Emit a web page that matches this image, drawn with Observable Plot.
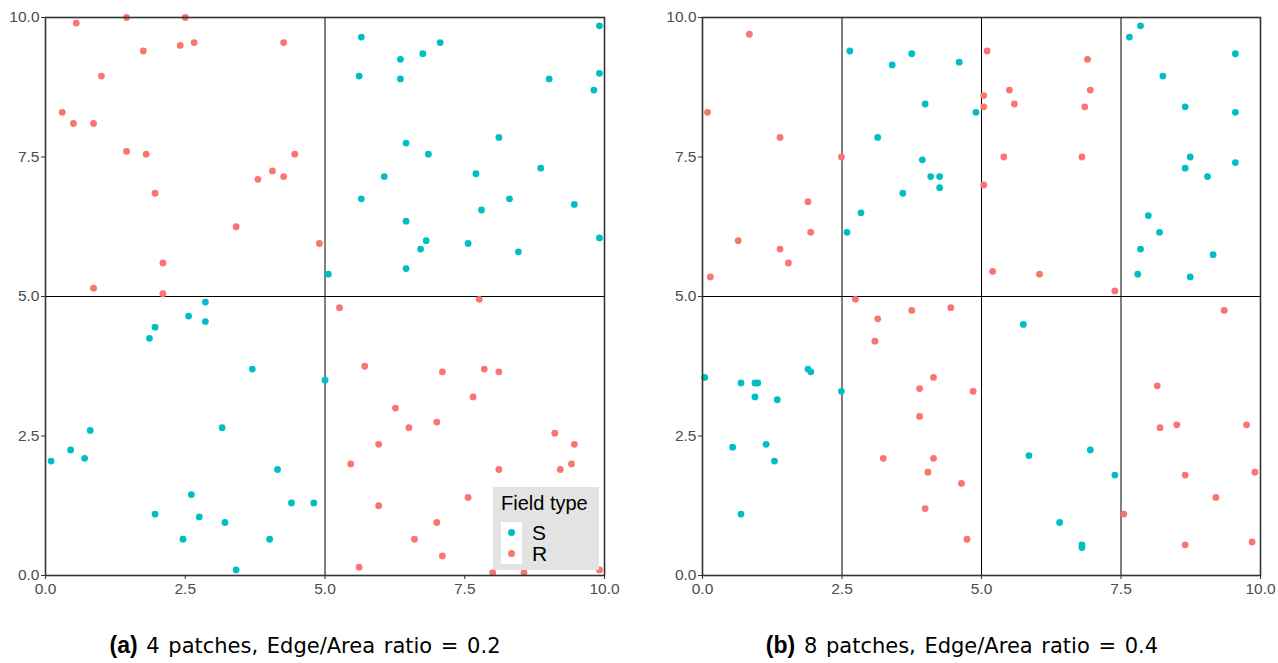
<!DOCTYPE html>
<html>
<head>
<meta charset="utf-8">
<script src="https://cdn.jsdelivr.net/npm/d3@7"></script>
<script src="https://cdn.jsdelivr.net/npm/@observablehq/plot@0.6"></script>
<style>
  html, body { margin: 0; padding: 0; background: #fff; }
  #wrap { position: relative; width: 1278px; height: 663px; overflow: hidden; font-family: "Liberation Sans", Arial, sans-serif; }
  .panel { position: absolute; top: 0; }
  .legend { position: absolute; left: 493px; top: 487px; width: 106px; height: 83px; background: #e3e3e3; }
  .legend .title { position: absolute; left: 8px; top: 5px; font-size: 20px; color: #000; white-space: nowrap; }
  .legend .keybox { position: absolute; left: 8px; top: 35px; width: 21px; height: 42px; background: #fff; }
  .legend .dotk { position: absolute; width: 7px; height: 7px; border-radius: 50%; }
  .legend .lab { position: absolute; left: 39px; font-size: 21px; color: #000; line-height: 21px; height: 21px; }
  .cap { position: absolute; top: 632px; transform: translateX(-50%); white-space: nowrap; font-family: "DejaVu Sans", sans-serif; font-size: 21px; word-spacing: 2px; color: #000; }
  .cap b { font-family: "Liberation Sans", Arial, sans-serif; font-size: 23px; }
</style>
</head>
<body>
<div id="wrap">
  <div id="pa" class="panel" style="left:0px"></div>
  <div id="pb" class="panel" style="left:639px"></div>
  <div class="legend" id="legend"></div>
  <div class="cap" id="capA" style="left:305px"></div>
  <div class="cap" id="capB" style="left:962px"></div>
</div>
<script>
// ---- Data: panel (a), 4 patches ----
const aS = [
  [9.91,9.85],[5.65,9.65],[7.06,9.55],[6.75,9.35],[6.35,9.25],[5.61,8.95],[6.35,8.90],[9.01,8.90],[9.91,9.0],[9.81,8.70],
  [8.11,7.85],[6.45,7.75],[6.85,7.55],[6.06,7.15],[7.70,7.20],[8.86,7.30],[5.65,6.75],[8.30,6.75],[7.80,6.55],[9.46,6.65],
  [6.45,6.35],[6.81,6.00],[6.71,5.85],[7.56,5.95],[8.46,5.80],[9.91,6.05],[6.45,5.50],[5.06,5.40],
  [2.86,4.90],[2.56,4.65],[2.86,4.55],[1.96,4.45],[1.86,4.25],[3.70,3.70],[5.0,3.50],[3.16,2.65],[0.80,2.60],[0.45,2.25],
  [0.10,2.05],[0.70,2.10],[4.15,1.90],[2.61,1.45],[1.96,1.10],[2.75,1.05],[3.21,0.95],[4.40,1.30],[4.80,1.30],[2.46,0.65],
  [4.01,0.65],[3.41,0.10]
];
const aR = [
  [0.55,9.90],[1.45,10.0],[2.50,10.0],[1.75,9.40],[2.41,9.50],[2.66,9.55],[4.26,9.55],[1.0,8.95],[0.30,8.30],[0.50,8.10],
  [0.86,8.10],[1.45,7.60],[1.80,7.55],[1.96,6.85],[3.80,7.10],[4.06,7.25],[4.26,7.15],[4.46,7.55],[3.41,6.25],[4.90,5.95],
  [2.10,5.60],[0.86,5.15],[2.10,5.05],
  [7.76,4.95],[5.26,4.80],[5.71,3.75],[7.10,3.65],[7.85,3.70],[8.11,3.65],[7.65,3.20],[6.26,3.00],[6.50,2.65],[7.0,2.75],
  [5.96,2.35],[5.46,2.00],[8.11,1.90],[9.11,2.55],[9.46,2.35],[9.41,2.00],[9.21,1.90],[7.56,1.40],[5.96,1.25],[7.0,0.95],
  [6.60,0.65],[7.10,0.35],[5.61,0.15],[8.0,0.05],[8.56,0.05],[9.91,0.10]
];
const aGridX = [5];
const aGridY = [5];

// ---- Data: panel (b), 8 patches ----
const bS = [
  [2.64,9.40],[3.75,9.35],[3.40,9.15],[4.60,9.20],[3.99,8.45],[4.90,8.30],[3.14,7.85],[3.94,7.45],[4.09,7.15],[4.25,7.15],
  [4.25,6.95],[3.59,6.85],[2.84,6.50],[2.59,6.15],
  [7.85,9.85],[7.65,9.65],[9.55,9.35],[8.25,8.95],[8.65,8.40],[9.55,8.30],[8.74,7.50],[8.65,7.30],[9.05,7.15],[9.55,7.40],
  [7.99,6.45],[8.19,6.15],[7.85,5.85],[9.15,5.75],[7.80,5.40],[8.74,5.35],
  [0.04,3.55],[0.69,3.45],[0.94,3.45],[0.99,3.45],[0.94,3.20],[1.34,3.15],[1.89,3.70],[1.94,3.65],[2.49,3.30],[0.54,2.30],
  [1.14,2.35],[1.29,2.05],[0.69,1.10],
  [5.75,4.50],[5.85,2.15],[6.95,2.25],[7.39,1.80],[6.40,0.95],[6.80,0.55],[6.80,0.50]
];
const bR = [
  [0.84,9.70],[0.09,8.30],[1.39,7.85],[2.49,7.50],[1.89,6.70],[1.94,6.15],[0.64,6.0],[1.39,5.85],[1.54,5.60],[0.14,5.35],
  [5.10,9.40],[6.90,9.25],[5.50,8.70],[6.95,8.70],[5.04,8.60],[5.04,8.40],[5.59,8.45],[6.85,8.40],[5.40,7.50],[6.80,7.50],
  [5.04,7.00],[5.20,5.45],[6.04,5.40],[7.39,5.10],
  [2.74,4.95],[3.14,4.60],[3.09,4.20],[3.75,4.75],[4.45,4.80],[4.14,3.55],[3.89,3.35],[4.85,3.30],[3.89,2.85],[3.24,2.10],
  [4.14,2.10],[4.04,1.85],[4.64,1.65],[3.99,1.20],[4.74,0.65],
  [9.35,4.75],[8.15,3.40],[8.20,2.65],[8.50,2.70],[9.75,2.70],[8.65,1.80],[9.90,1.85],[9.20,1.40],[7.55,1.10],[8.65,0.55],
  [9.85,0.60]
];
const bGridX = [2.5, 5, 7.5];
const bGridY = [5];

const ticks = [0, 2.5, 5, 7.5, 10];
const fieldTypes = ["S", "R"];
const fieldColors = ["#00BFC4", "#F8766D"];
const captions = [
  ["(a)", "4 patches, Edge/Area ratio = 0.2"],
  ["(b)", "8 patches, Edge/Area ratio = 0.4"]
];

function rows(S, R) {
  return [
    ...S.map(([x, y]) => ({x, y, type: "S"})),
    ...R.map(([x, y]) => ({x, y, type: "R"}))
  ];
}

function panel(data, gx, gy, mLeft, mRight) {
  return Plot.plot({
    width: 639,
    height: 600,
    marginLeft: mLeft,
    marginRight: mRight,
    marginTop: 17,
    marginBottom: 25,
    style: {fontFamily: "'Liberation Sans', Arial, sans-serif", fontSize: "15px", color: "#4d4d4d", background: "#fff"},
    x: {domain: [0, 10], ticks, tickFormat: d3.format(".1f")},
    y: {domain: [0, 10], ticks, tickFormat: d3.format(".1f")},
    color: {domain: fieldTypes, range: fieldColors},
    marks: [
      Plot.ruleX(gx, {stroke: "#000", strokeWidth: 1}),
      Plot.ruleY(gy, {stroke: "#000", strokeWidth: 1}),
      Plot.dot(data, {x: "x", y: "y", fill: "type", r: 3.4}),
      Plot.frame({stroke: "#333", strokeWidth: 1.6}),
      Plot.axisX({ticks, tickFormat: d3.format(".1f"), tickSize: 4, tickPadding: 3, stroke: "#333", fontSize: 15.5, fill: "#4d4d4d", label: null}),
      Plot.axisY({ticks, tickFormat: d3.format(".1f"), tickSize: 4, tickPadding: 2, stroke: "#333", fontSize: 15.5, fill: "#4d4d4d", label: null})
    ]
  });
}

document.getElementById("pa").appendChild(panel(rows(aS, aR), aGridX, aGridY, 45, 35));
document.getElementById("pb").appendChild(panel(rows(bS, bR), bGridX, bGridY, 63, 18));

// legend (HTML)
const lg = document.getElementById("legend");
lg.innerHTML = `<div class="title">Field type</div><div class="keybox"></div>`;
fieldTypes.forEach((t, i) => {
  const d = document.createElement("div");
  d.className = "dotk";
  d.style.background = fieldColors[i];
  d.style.left = "15px";
  d.style.top = (42 + i * 21) + "px";
  lg.appendChild(d);
  const l = document.createElement("div");
  l.className = "lab";
  l.textContent = t;
  l.style.top = (35 + i * 21) + "px";
  lg.appendChild(l);
});

// captions
[["capA", 0], ["capB", 1]].forEach(([id, i]) => {
  const el = document.getElementById(id);
  el.innerHTML = `<b>${captions[i][0]}</b> ${captions[i][1]}`;
});
</script>
</body>
</html>
